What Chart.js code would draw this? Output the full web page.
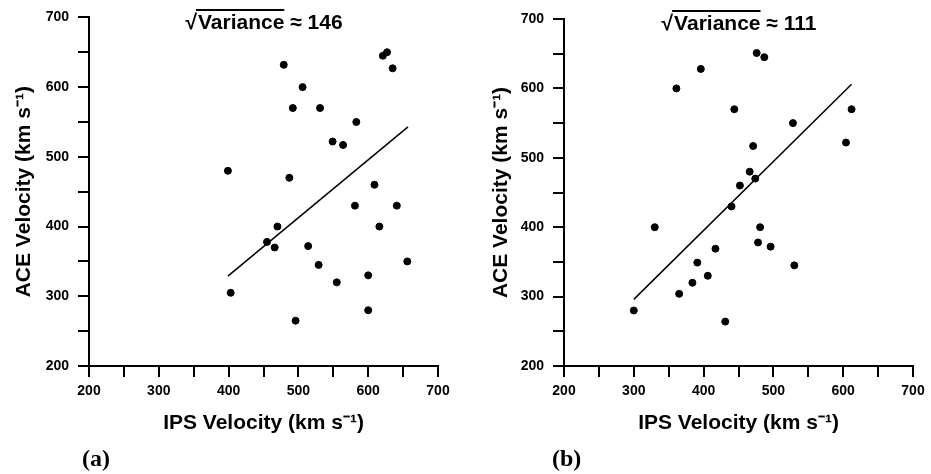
<!DOCTYPE html>
<html>
<head>
<meta charset="utf-8">
<script src="https://cdn.jsdelivr.net/npm/chart.js@4/dist/chart.umd.min.js"></script>
<style>
body { margin: 0; background: #fff; }
#wrap { display: flex; width: 931px; height: 474px; }
canvas { display: block; }
</style>
</head>
<body>
<div id="wrap">
  <canvas id="chartA" width="465" height="474"></canvas>
  <canvas id="chartB" width="466" height="474"></canvas>
</div>
<script>
// panel (a)
var ipsA = [399, 403, 479, 506, 492, 531, 487, 583, 549, 564, 621, 627, 635, 581, 609, 641, 616, 470, 455, 466, 514, 529, 555, 600, 656, 600, 496];
var aceA = [480, 305, 632, 600, 570, 570, 470, 550, 522, 517, 645, 650, 627, 430, 460, 430, 400, 400, 378, 370, 372, 345, 320, 330, 350, 280, 265];
var fitAx = [399, 657];
var fitAy = [329, 543];

// panel (b)
var ipsB = [300, 330, 361, 396, 365, 384, 391, 406, 417, 431, 440, 452, 444, 466, 471, 474, 476, 487, 481, 478, 496, 528, 530, 604, 612];
var aceB = [280, 400, 600, 628, 304, 320, 349, 330, 369, 264, 430, 460, 570, 480, 517, 470, 651, 645, 400, 378, 372, 550, 345, 522, 570];
var fitBx = [300, 612];
var fitBy = [296, 606];

var axisMin = 200, axisMax = 700, axisStep = 50;
var panelLabels = ['(a)', '(b)'];
var sigmas = ['146', '111'];

var sans = '"Liberation Sans", Arial, sans-serif';

function pts(xs, ys) {
  return xs.map(function (x, i) { return { x: x, y: ys[i] }; });
}

// the sqrt(Variance) heading and the (a)/(b) label
var panelText = {
  id: 'panelText',
  afterDraw: function (chart, args, o) {
    var ctx = chart.ctx, ca = chart.chartArea;
    ctx.save();
    ctx.fillStyle = '#000';
    ctx.textBaseline = 'alphabetic';
    ctx.textAlign = 'left';
    ctx.font = 'bold 21px ' + sans;
    var root = '\u221A', word = 'Variance', rest = ' \u2248 ' + o.sigma;
    var wR = ctx.measureText(root).width;
    var wW = ctx.measureText(word).width;
    var wT = ctx.measureText(rest).width;
    var x0 = (ca.left + ca.right) / 2 - (wR + wW + wT) / 2;
    ctx.fillText(root, x0, o.baseY);
    ctx.fillText(word, x0 + wR + 1, o.baseY);
    ctx.fillText(rest, x0 + wR + wW + 1, o.baseY);
    ctx.strokeStyle = '#000';
    ctx.lineWidth = 2;
    ctx.beginPath();
    ctx.moveTo(x0 + wR - 1, o.lineY);
    ctx.lineTo(x0 + wR + wW + 1, o.lineY);
    ctx.stroke();

    ctx.font = 'bold 24px "Liberation Serif", "Times New Roman", serif';
    ctx.fillText(o.label, o.labelX, 466);
    ctx.restore();
  }
};

function makeChart(id, xs, ys, fx, fy, opts) {
  return new Chart(document.getElementById(id), {
    type: 'scatter',
    data: {
      datasets: [
        {
          data: pts(xs, ys),
          backgroundColor: '#000',
          borderColor: '#000',
          pointRadius: 3.5,
          pointHoverRadius: 3.5
        },
        {
          type: 'line',
          data: pts(fx, fy),
          borderColor: '#000',
          borderWidth: 1.5,
          pointRadius: 0,
          fill: false
        }
      ]
    },
    options: {
      responsive: false,
      animation: false,
      layout: { padding: { left: 0, top: opts.top, right: opts.right, bottom: 0 } },
      plugins: {
        legend: { display: false },
        tooltip: { enabled: false },
        panelText: opts.text
      },
      scales: {
        x: {
          type: 'linear',
          min: axisMin, max: axisMax,
          afterFit: function (s) { s.height = 108; },
          border: { display: true, color: '#000', width: 2 },
          grid: { display: true, drawOnChartArea: false, drawTicks: true, tickLength: 11, color: '#000', lineWidth: 2 },
          ticks: {
            stepSize: axisStep, autoSkip: false, maxRotation: 0, padding: 6,
            color: '#000', font: { family: sans, size: 14, weight: 'bold' },
            callback: function (v) { return v % 100 === 0 ? v : ''; }
          },
          title: {
            display: true, text: 'IPS Velocity (km s\u207B\u00B9)', color: '#000',
            font: { family: sans, size: 21, weight: 'bold' },
            padding: { top: 0, bottom: 38 }
          }
        },
        y: {
          type: 'linear',
          min: axisMin, max: axisMax,
          afterFit: function (s) { s.width = opts.left; },
          border: { display: true, color: '#000', width: 2 },
          grid: { display: true, drawOnChartArea: false, drawTicks: true, tickLength: 11, color: '#000', lineWidth: 2 },
          ticks: {
            stepSize: axisStep, autoSkip: false, padding: 9,
            color: '#000', font: { family: sans, size: 14, weight: 'bold' },
            callback: function (v) { return v % 100 === 0 ? v : ''; }
          },
          title: {
            display: true, text: 'ACE Velocity (km s\u207B\u00B9)', color: '#000',
            font: { family: sans, size: 21, weight: 'bold' },
            padding: { top: opts.titlePad, bottom: 0 }
          }
        }
      }
    },
    plugins: [panelText]
  });
}

makeChart('chartA', ipsA, aceA, fitAx, fitAy, {
  left: 89, top: 17, right: 27, titlePad: 12,
  text: { sigma: sigmas[0], label: panelLabels[0], baseY: 29, lineY: 10, labelX: 82 }
});

makeChart('chartB', ipsB, aceB, fitBx, fitBy, {
  left: 99, top: 19, right: 18, titlePad: 24,
  text: { sigma: sigmas[1], label: panelLabels[1], baseY: 30, lineY: 11, labelX: 87 }
});
</script>
</body>
</html>
